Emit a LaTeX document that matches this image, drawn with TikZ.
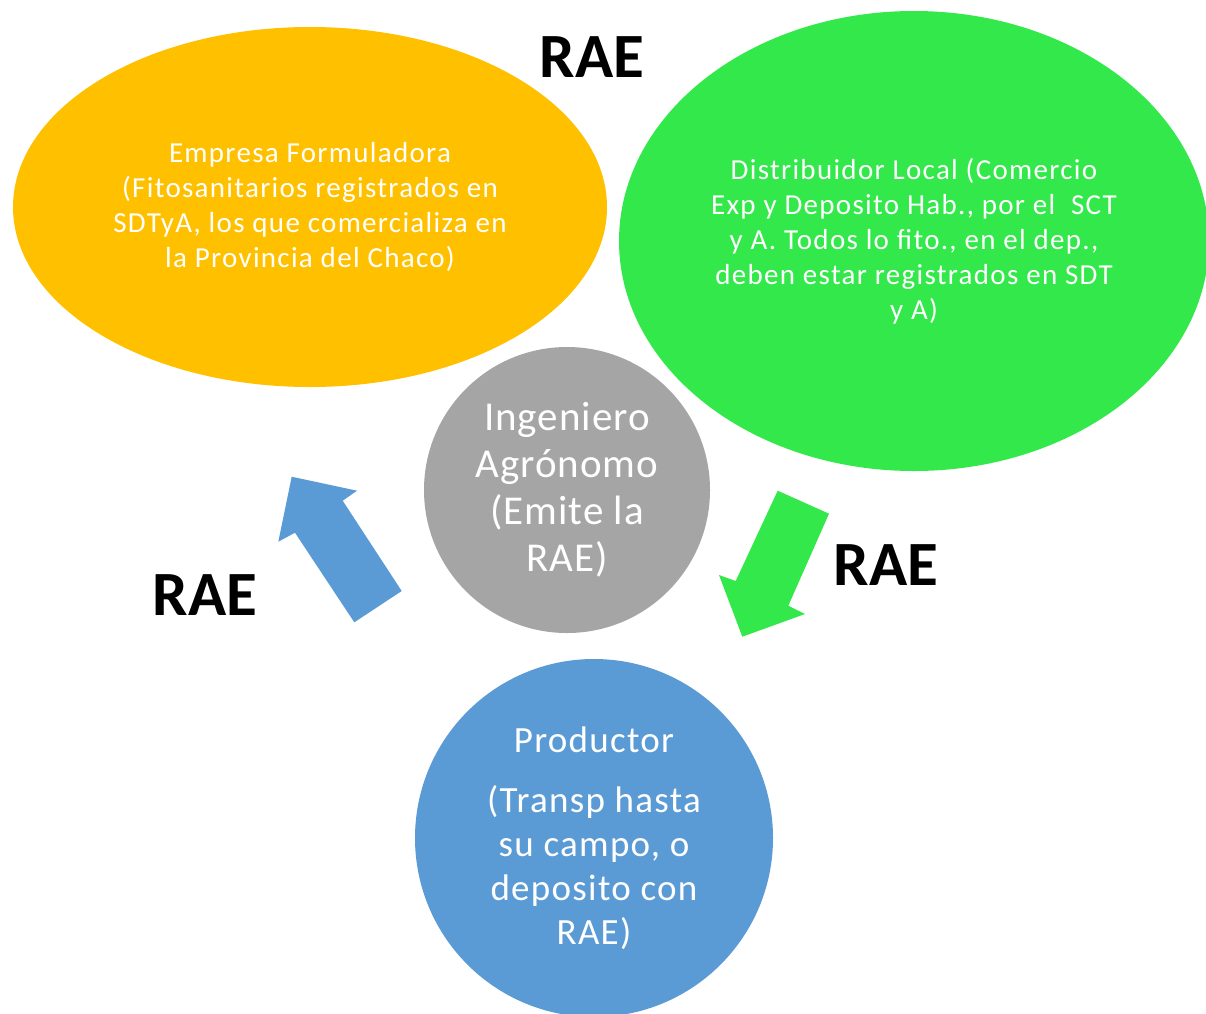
\documentclass[tikz,border=0pt]{standalone}
\usepackage{fontspec}
\setmainfont{Carlito}
\newfontfamily\spacedA[LetterSpace=4.5]{Carlito}
\newfontfamily\spacedB[LetterSpace=2.4]{Carlito}
\newfontfamily\spacedC[LetterSpace=3.5]{Carlito}
\usetikzlibrary{shapes.geometric}
\definecolor{corange}{HTML}{FFC000}
\definecolor{cgreen}{HTML}{33E84A}
\definecolor{cgray}{HTML}{A5A5A5}
\definecolor{cblue}{HTML}{5B9BD5}
\tikzset{
  bubble/.style={ellipse, inner sep=0pt, text=white, align=center},
  smalltext/.style={font=\spacedA\fontsize{29}{35}\selectfont},
  raelabel/.style={font=\fontsize{63}{65}\selectfont\bfseries, text=black, inner sep=0pt},
}
\begin{document}
\begin{tikzpicture}[x=1pt,y=-1pt]
\useasboundingbox (0,0) rectangle (1206,1013);
\clip (0,0) rectangle (1206,1013);
\fill[white] (0,0) rectangle (1206,1013);

\node[bubble, smalltext, fill=corange, minimum width=594pt, minimum height=360pt] (empresa) at (310,207)
  {Empresa Formuladora\\(Fitosanitarios registrados en\\SDTyA, los que comercializa en\\la Provincia del Chaco)};

\node[bubble, smalltext, fill=cgreen, minimum width=590pt, minimum height=460pt] (distrib) at (914,241)
  {Distribuidor Local (Comercio\\Exp y Deposito Hab., por el\ \ SCT\\y A. Todos lo fito., en el dep.,\\deben estar registrados en SDT\\y A)};

\node[bubble, circle, fill=cgray, minimum size=286pt, font=\spacedB\fontsize{41}{47}\selectfont] (ingeniero) at (567,490)
  {Ingeniero\\Agrónomo\\(Emite la\\RAE)};

\node[bubble, circle, fill=cblue, minimum size=358pt, font=\spacedC\fontsize{37}{44}\selectfont] (productor) at (594,838)
  {Productor\\[16pt](Transp hasta\\su campo, o\\deposito con\\RAE)};

% block arrows
\fill[cblue] (291.7,476.7) -- (357,490.7) -- (342.7,500.7) -- (401.7,591) -- (354.3,622.3) -- (295,532.7) -- (278.3,541.7) -- cycle;
\fill[cgreen] (777.7,490.7) -- (829,513.7) -- (788.3,605.7) -- (805,614) -- (742.3,636.7) -- (719,575) -- (735.7,581) -- cycle;

\node[raelabel] (raetop) at (592,57) {RAE};
\node[raelabel] (raeright) at (886,565) {RAE};
\node[raelabel] (raeleft) at (205,595) {RAE};
\end{tikzpicture}
\end{document}
